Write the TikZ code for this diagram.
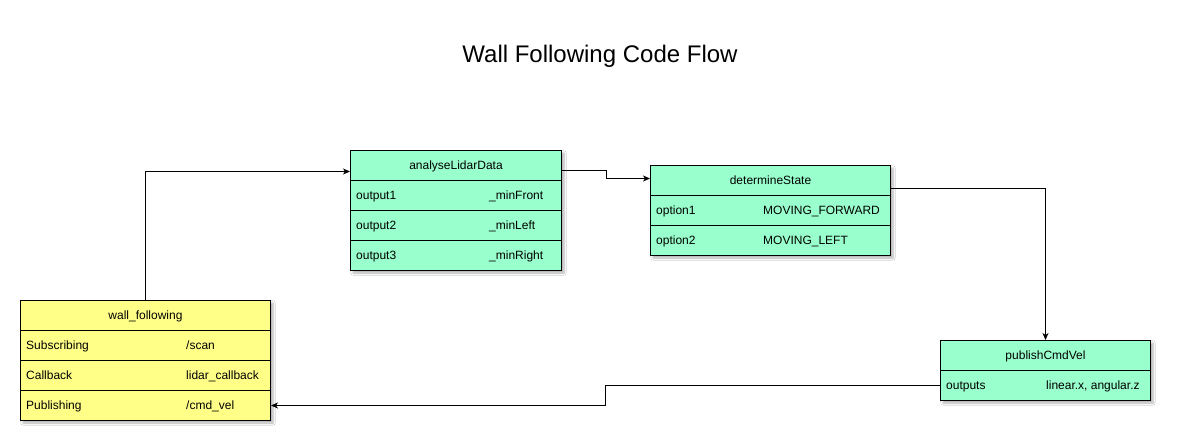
\documentclass[tikz,border=0pt]{standalone}
\usepackage{fontspec}
\setmainfont{Liberation Sans}
\usetikzlibrary{arrows.meta,calc,shadows.blur}
\definecolor{tgreen}{HTML}{99FFCC}
\definecolor{tyellow}{HTML}{FFFF88}
\tikzset{
  tbl/.style={draw=black, line width=1pt, anchor=north west, inner sep=0pt,
    blur shadow={shadow xshift=2.5pt, shadow yshift=-2.5pt, shadow blur steps=6, shadow opacity=30}},
  cell/.style={draw=black, line width=1pt, anchor=north west, inner sep=0pt, text height=8.6pt, text depth=0pt, font=\fontsize{12}{14}\selectfont},
  txt/.style={anchor=west, inner sep=0pt, text height=8.6pt, text depth=0pt, font=\fontsize{12}{14}\selectfont},
  conn/.style={draw=black, line width=0.9pt, -{Stealth[length=7pt,width=6pt,inset=2pt]}}
}
\begin{document}
\begin{tikzpicture}[x=1pt,y=-1pt]
\useasboundingbox[fill=white] (0,0) rectangle (1177,447);
% title
\node (title) [font=\fontsize{24}{28}\selectfont, text height=17.2pt, text depth=0pt, inner sep=0pt] at (600,54) {Wall Following Code Flow};

% analyseLidarData
\node[tbl, fill=tgreen, minimum width=211pt, minimum height=120pt] (ald) at (350,150) {};
\node[cell, fill=tgreen, minimum width=211pt, minimum height=30pt] (aldh) at (350,150) {analyseLidarData};
\node[cell, fill=tgreen, minimum width=211pt, minimum height=30pt] (ald1) at (350,180) {};
\node[cell, fill=tgreen, minimum width=211pt, minimum height=30pt] (ald2) at (350,210) {};
\node[cell, fill=tgreen, minimum width=211pt, minimum height=30pt] (ald3) at (350,240) {};
\node[txt] (ald1a) at (356,195) {output1};
\node[txt] (ald1b) at (489,195) {\_minFront};
\node[txt] (ald2a) at (356,225) {output2};
\node[txt] (ald2b) at (489,225) {\_minLeft};
\node[txt] (ald3a) at (356,255) {output3};
\node[txt] (ald3b) at (489,255) {\_minRight};

% determineState
\node[tbl, fill=tgreen, minimum width=240pt, minimum height=90pt] (ds) at (650,165) {};
\node[cell, fill=tgreen, minimum width=240pt, minimum height=30pt] (dsh) at (650,165) {determineState};
\node[cell, fill=tgreen, minimum width=240pt, minimum height=30pt] (ds1) at (650,195) {};
\node[cell, fill=tgreen, minimum width=240pt, minimum height=30pt] (ds2) at (650,225) {};
\node[txt] (ds1a) at (656,210) {option1};
\node[txt] (ds1b) at (763,210) {MOVING\_FORWARD};
\node[txt] (ds2a) at (656,240) {option2};
\node[txt] (ds2b) at (763,240) {MOVING\_LEFT};

% wall_following
\node[tbl, fill=tyellow, minimum width=250pt, minimum height=120pt] (wf) at (20,300) {};
\node[cell, fill=tyellow, minimum width=250pt, minimum height=30pt] (wfh) at (20,300) {wall\_following};
\node[cell, fill=tyellow, minimum width=250pt, minimum height=30pt] (wf1) at (20,330) {};
\node[cell, fill=tyellow, minimum width=250pt, minimum height=30pt] (wf2) at (20,360) {};
\node[cell, fill=tyellow, minimum width=250pt, minimum height=30pt] (wf3) at (20,390) {};
\node[txt] (wf1a) at (26,345) {Subscribing};
\node[txt] (wf1b) at (186,345) {/scan};
\node[txt] (wf2a) at (26,375) {Callback};
\node[txt] (wf2b) at (186,375) {lidar\_callback};
\node[txt] (wf3a) at (26,405) {Publishing};
\node[txt] (wf3b) at (186,405) {/cmd\_vel};

% publishCmdVel
\node[tbl, fill=tgreen, minimum width=210pt, minimum height=60pt] (pc) at (940,340) {};
\node[cell, fill=tgreen, minimum width=210pt, minimum height=30pt] (pch) at (940,340) {publishCmdVel};
\node[cell, fill=tgreen, minimum width=210pt, minimum height=30pt] (pc1) at (940,370) {};
\node[txt] (pc1a) at (946,385) {outputs};
\node[txt] (pc1b) at (1046,385) {linear.x, angular.z};

% connectors
\draw[conn] (wfh.north) |- ($(aldh.west)+(0,6)$);
\draw[conn] ($(aldh.east)+(0,5)$) -- ++(44,0) |- ($(dsh.west)+(0,-2)$);
\draw[conn] ($(dsh.east)+(0,7.5)$) -| (pch.north);
\draw[conn] (pc1.west) -- ++(-335,0) |- (wf3.east);
\end{tikzpicture}
\end{document}
